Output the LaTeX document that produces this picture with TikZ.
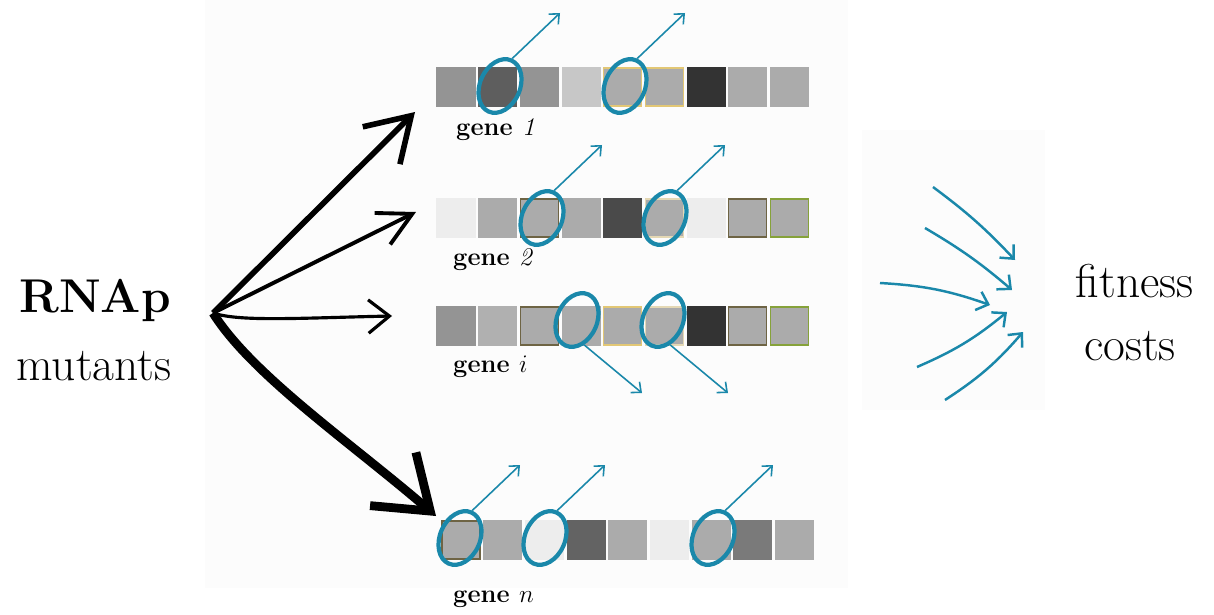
\documentclass[tikz,border=0pt]{standalone}
\usepackage{fontspec}
\usetikzlibrary{arrows.meta,shapes.geometric}

\definecolor{Teal}{HTML}{1A88AA}
\definecolor{Olive}{HTML}{6E6444}
\definecolor{Gold}{HTML}{E2C775}
\definecolor{Sand}{HTML}{E4D8B4}
\definecolor{Moss}{HTML}{86A23A}

\tikzset{
  cell/.style={rectangle,minimum size=0.76cm,inner sep=0pt,line width=0.6pt},
  loopmark/.style={ellipse,draw=Teal,line width=2.4pt,minimum width=0.8cm,minimum height=1.12cm,inner sep=0pt},
  hop/.style={draw=Teal,line width=0.9pt,-{Straight Barb[length=4.5pt,width=8pt]}},
  costarrow/.style={draw=Teal,line width=1.4pt,-{Straight Barb[length=6pt,width=11pt]}},
  genelabel/.style={anchor=base west,font=\fontsize{14.5}{17}\selectfont\bfseries},
  bigtext/.style={anchor=base,font=\fontsize{27}{32}\selectfont},
}

\newcommand{\drawgene}[4]{% Parameters: name, left, top, fill/border list
  \foreach \f/\b [count=\k from 0] in {#4}
    \node[cell,fill=\f,draw=\b] (#1-\k) at ({#2+19+41.7*\k},{#3+19}) {};
}
\newcommand{\drawloopup}[3]{% Parameters: name, x, y
  \node[loopmark,rotate=-24] (#1) at (#2,#3) {};
  \coordinate (#1-end) at (#2+60,#3-73);
  \draw[hop] (#1.north) -- (#1-end);
}
\newcommand{\drawloopdown}[3]{% Parameters: name, x, y
  \node[loopmark,rotate=-24] (#1) at (#2,#3) {};
  \coordinate (#1-end) at (#2+65,#3+73);
  \draw[hop] (#1.-50) -- (#1-end);
}

\begin{document}
\begin{tikzpicture}[x=0.02cm,y=-0.02cm]
  \useasboundingbox (0,0) rectangle (1214,615);
  \fill[black!1] (205,0) rectangle (848,588);
  \fill[black!1] (862,130) rectangle (1045,410);

  % the four genes
  \drawgene{ga}{437}{68}{black!42/black!42, black!63/black!63, black!42/black!42, black!22/black!22, black!33/Gold,
    black!33/Gold, black!80/black!80, black!33/black!33, black!33/black!33}
  \drawgene{gb}{437}{199}{black!7/black!7, black!33/black!33, black!33/Olive, black!33/black!33, black!71/black!71,
    black!33/Sand, black!7/black!7, black!33/Olive, black!33/Moss}
  \drawgene{gi}{437}{307}{black!42/black!42, black!31/black!31, black!33/Olive, black!33/black!33, black!33/Gold,
    black!33/Sand, black!80/black!80, black!33/Olive, black!33/Moss}
  \drawgene{gn}{442}{521}{black!33/Olive, black!33/black!33, black!7/black!7, black!61/black!61, black!33/black!33,
    black!7/black!7, black!33/black!33, black!52/black!52, black!33/black!33}

  \node[genelabel] (la) at (450,135) {gene {\mdseries\itshape 1}};
  \node[genelabel] (lb) at (447,265) {gene {\mdseries\itshape 2}};
  \node[genelabel] (li) at (447,372) {gene $i$};
  \node[genelabel] (ln) at (447,602) {gene $n$};

  % mutated sites
  \drawloopup{ma}{500}{86}
  \drawloopup{mb}{625}{86}
  \drawloopup{mc}{542}{218}
  \drawloopup{md}{665}{218}
  \drawloopdown{me}{577}{320}
  \drawloopdown{mf}{663}{320}
  \drawloopup{mg}{460}{538}
  \drawloopup{mh}{545}{538}
  \drawloopup{mk}{713}{538}

  % left side
  \node[bigtext,font=\fontsize{27}{32}\selectfont\bfseries] (rnap) at (95,312) {RNAp};
  \node[bigtext] (mutants) at (94,380) {mutants};
  \coordinate (fork) at (213,313);
  \coordinate (tip1) at (415,112);
  \coordinate (tip2) at (416,212);
  \coordinate (tip3) at (392,316);
  \coordinate (tip4) at (436,516);
  \draw[line width=3.2pt,-{Straight Barb[length=24pt,width=30pt]}] (fork) -- (tip1);
  \draw[line width=2.2pt,-{Straight Barb[length=19pt,width=20pt]}] (fork) -- (tip2);
  \draw[line width=1.8pt,-{Straight Barb[length=12pt,width=19pt]}] (fork) .. controls (240,322) and (300,318) .. (tip3);
  \draw[line width=5pt,-{Straight Barb[length=28pt,width=40pt]}] (fork) .. controls (252,375) and (350,442) .. (tip4);

  % right side
  \node[bigtext] (fitness) at (1135,297) {fitness};
  \node[bigtext] (costs) at (1130,360) {costs};
  \foreach \k/\sx/\sy/\ex/\ey in {1/933/187/1015/260, 2/925/228/1012/290, 3/880/283/990/305,
    4/917/367/1007/312, 5/945/400/1023/332} {
    \coordinate (from\k) at (\sx,\sy);
    \coordinate (into\k) at (\ex,\ey);
  }
  \draw[costarrow] (from1) to[bend left=5] (into1);
  \draw[costarrow] (from2) to[bend left=5] (into2);
  \draw[costarrow] (from3) to[bend left=8] (into3);
  \draw[costarrow] (from4) to[bend right=8] (into4);
  \draw[costarrow] (from5) to[bend right=8] (into5);
\end{tikzpicture}
\end{document}
